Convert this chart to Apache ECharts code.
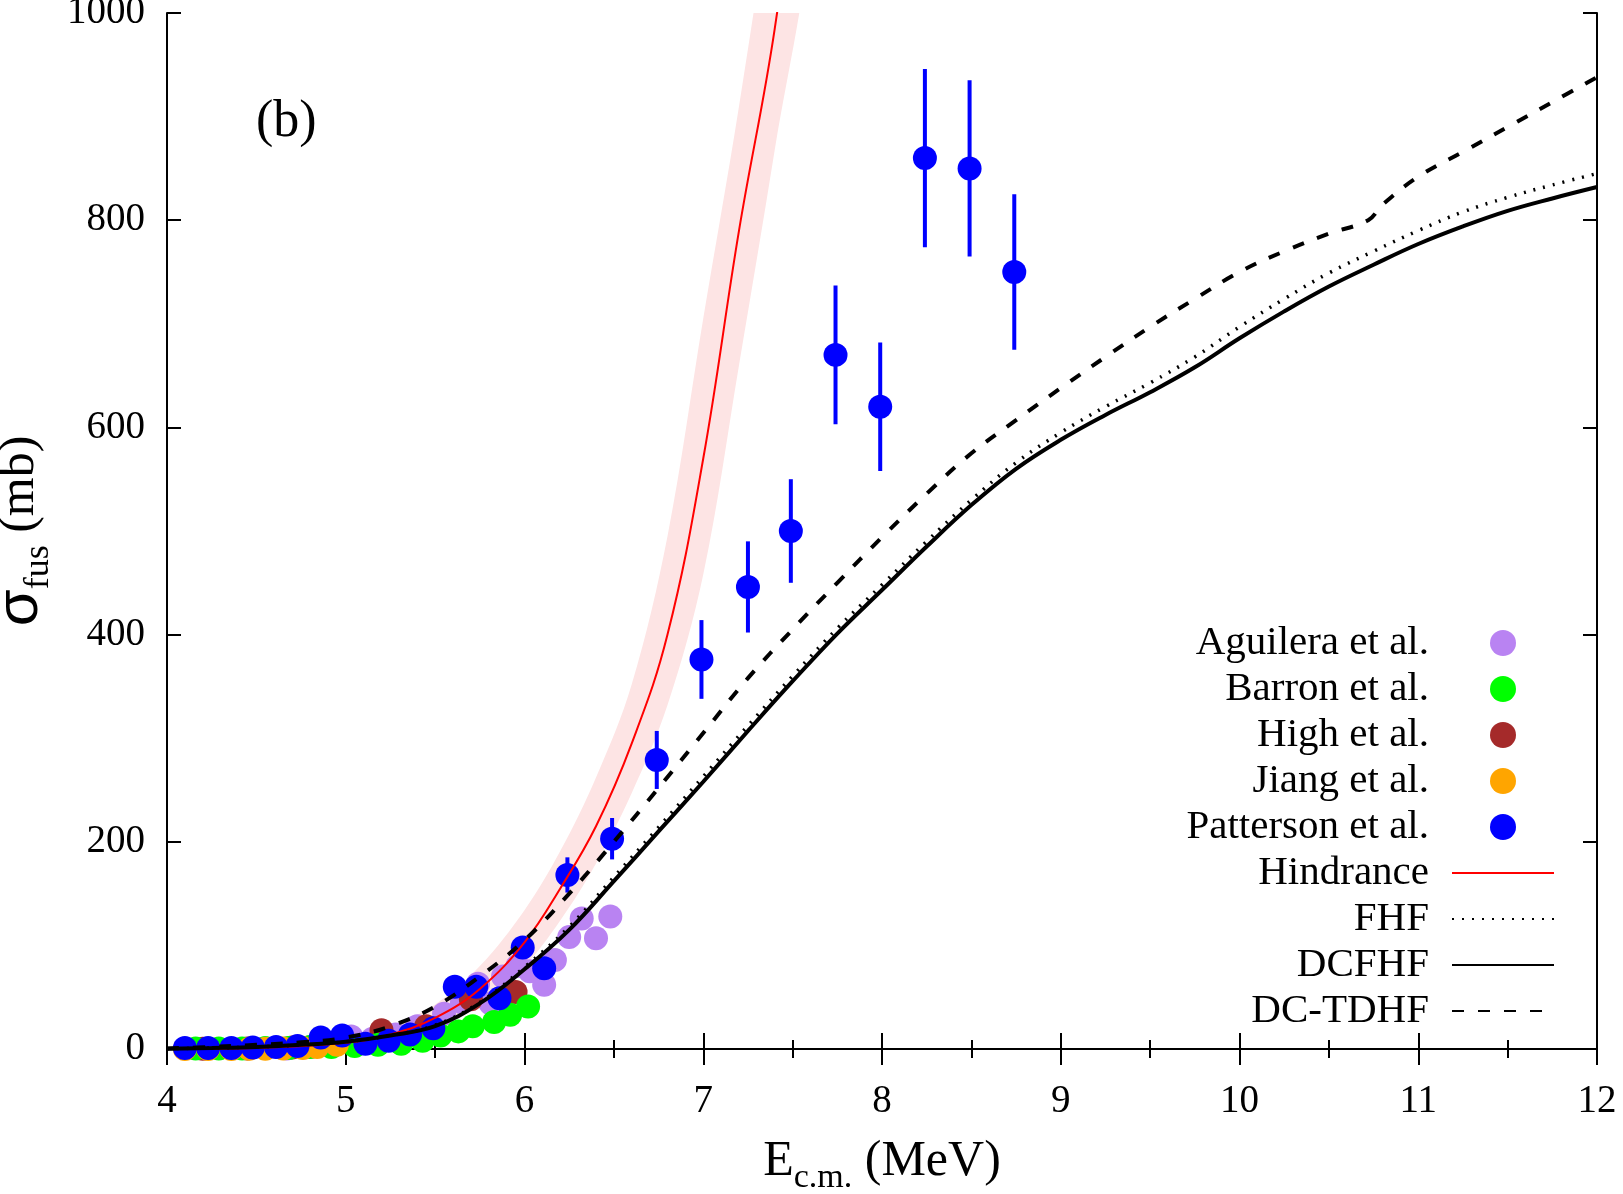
<!DOCTYPE html>
<html>
<head>
<meta charset="utf-8">
<script src="https://cdn.jsdelivr.net/npm/echarts@6/dist/echarts.min.js"></script>
<style>
  html, body { margin: 0; padding: 0; background: #fff; }
  #chart { width: 1623px; height: 1194px; }
</style>
</head>
<body>
<div id="chart"></div>
<script>
// --- data ---
const aguileraE = [4.67, 4.80, 4.93, 5.03, 5.15, 5.28, 5.40, 5.55, 5.65, 5.74, 5.81, 5.88, 5.96, 6.03, 6.11, 6.17, 6.25, 6.32, 6.40, 6.48];
const aguileraS = [0.5, 2, 5, 12, 10, 14, 22, 34, 45, 63, 44, 70, 80, 75, 62, 86, 108, 126, 107, 128];

const barronE = [4.16, 4.29, 4.42, 4.55, 4.68, 4.80, 4.92, 5.05, 5.18, 5.31, 5.43, 5.53, 5.63, 5.71, 5.83, 5.92, 6.02];
const barronS = [0.5, 0.5, 0.5, 1, 1, 2, 2, 3, 4, 5, 8, 13, 17, 22, 26, 33, 41];

const highE = [4.20, 4.45, 4.70, 4.95, 5.20, 5.45, 5.70, 5.95];
const highS = [0.3, 0.5, 1.5, 6, 18, 22, 48, 55];

const jiangE = [4.10, 4.23, 4.36, 4.46, 4.55, 4.65, 4.76, 4.84, 4.95];
const jiangS = [0, 0.1, 0.1, 0.2, 0.3, 0.5, 1, 2, 4];

const pattersonE = [4.10, 4.23, 4.36, 4.48, 4.61, 4.73, 4.86, 4.98, 5.11, 5.24, 5.36, 5.49, 5.61, 5.73, 5.86, 5.99, 6.11, 6.24, 6.49, 6.74, 6.99, 7.25, 7.49, 7.74, 7.99, 8.24, 8.49, 8.74];
const pattersonS = [1, 1, 1, 1.5, 2, 3, 11, 13, 5, 8, 14, 20, 60, 60, 49, 98, 78, 168, 203, 279, 376, 446, 500, 670, 620, 860, 850, 750];
const pattersonErr = [0.1, 0.1, 0.1, 0.2, 0.2, 0.3, 1, 1.3, 0.5, 0.8, 1.4, 2, 6, 6, 5, 10, 8, 17, 20, 28, 38, 44, 50, 67, 62, 86, 85, 75];

const hindE = [4.0, 4.5, 5.0, 5.25, 5.5, 5.75, 6.0, 6.2, 6.4, 6.6, 6.8, 7.0, 7.2, 7.4, 7.6];
const hindS = [0.1, 1, 6, 14, 30, 58, 103, 155, 215, 295, 400, 570, 790, 985, 1250];
const hindUpper = [0.3, 2, 10, 22, 43, 80, 134, 191, 262, 352, 495, 705, 910, 1140, 1400];
const hindLower = [0, 0.4, 4, 10, 22, 44, 80, 124, 179, 247, 332, 458, 660, 868, 1090];

const modelE = [4.0, 4.25, 4.5, 4.75, 5.0, 5.25, 5.5, 5.75, 6.0, 6.25, 6.5, 6.75, 7.0, 7.25, 7.5, 7.75, 8.0, 8.25, 8.5, 8.75, 9.0, 9.25, 9.5, 9.75, 10.0, 10.25, 10.5, 10.75, 11.0, 11.25, 11.5, 11.75, 12.0];
const fhfS = [0.3, 1, 2, 4, 7, 13, 23, 45, 79, 118, 166, 214, 263, 312, 360, 406, 448, 490, 530, 566, 595, 620, 643, 668, 697, 724, 749, 770, 790, 808, 822, 834, 845];
const dcfhfS = [0.3, 1, 2, 4, 7, 13, 22, 44, 77, 115, 162, 210, 258, 307, 355, 401, 443, 485, 525, 560, 588, 612, 634, 658, 686, 712, 736, 757, 777, 794, 809, 821, 832];

const tdhfE = [4.0, 4.25, 4.5, 4.75, 5.0, 5.25, 5.5, 5.75, 6.0, 6.25, 6.5, 6.75, 7.0, 7.25, 7.5, 7.75, 8.0, 8.25, 8.5, 8.75, 9.0, 9.25, 9.5, 9.75, 10.0, 10.25, 10.5, 10.72, 10.8, 11.0, 11.25, 11.5, 11.75, 12.0];
const tdhfS = [0.5, 2, 4, 6.5, 11, 22, 41, 70, 105, 150, 200, 252, 305, 358, 405, 450, 494, 536, 575, 607, 638, 668, 697, 724, 750, 770, 787, 800, 815, 842, 866, 890, 914, 938];

const scatterNames = ['Aguilera et al.', 'Barron et al.', 'High et al.', 'Jiang et al.', 'Patterson et al.'];
const curveNames = ['Hindrance', 'FHF', 'DCFHF', 'DC-TDHF'];

const serif = 'Liberation Serif';
const pair = (xs, ys) => xs.map((x, i) => [x, ys[i]]);

const myChart = echarts.init(document.getElementById('chart'));

function dots(name, xs, ys, color) {
  return {
    name: name,
    type: 'scatter',
    symbol: 'circle',
    symbolSize: 24,
    itemStyle: { color: color, opacity: 1 },
    data: pair(xs, ys)
  };
}

function curve(name, xs, ys, style) {
  return {
    name: name,
    type: 'line',
    symbol: 'none',
    smooth: 0.4,
    itemStyle: { color: style.color, opacity: 0 },
    lineStyle: style,
    data: pair(xs, ys)
  };
}

const axisText = { fontFamily: serif, fontSize: 39, color: '#000' };

const option = {
  animation: false,
  backgroundColor: '#fff',
  grid: { left: 167, right: 26, top: 13, bottom: 145, containLabel: false, outerBoundsMode: 'none' },
  xAxis: [
    {
      type: 'value', min: 4, max: 12, interval: 1,
      name: '{m|E}{s|c.m.}{m| (MeV)}',
      nameLocation: 'middle', nameGap: 80,
      nameTextStyle: {
        rich: {
          m: { fontFamily: serif, fontSize: 50, color: '#000', lineHeight: 66 },
          s: { fontFamily: serif, fontSize: 34, color: '#000', lineHeight: 34, verticalAlign: 'bottom' }
        }
      },
      axisLine: { lineStyle: { color: '#000', width: 2 } },
      axisTick: { inside: true, length: 16, lineStyle: { color: '#000', width: 2 } },
      minorTick: { show: true, splitNumber: 2, length: 9, lineStyle: { color: '#000', width: 2 } },
      axisLabel: Object.assign({ margin: 33 }, axisText),
      splitLine: { show: false }
    },
    {
      type: 'value', min: 4, max: 12, interval: 1, position: 'top',
      axisLine: { lineStyle: { color: '#000', width: 2 } },
      axisTick: { inside: true, length: 16, lineStyle: { color: '#000', width: 2 } },
      minorTick: { show: true, splitNumber: 2, length: 9, lineStyle: { color: '#000', width: 2 } },
      axisLabel: { show: false },
      splitLine: { show: false }
    }
  ],
  yAxis: [
    {
      type: 'value', min: 0, max: 1000, interval: 200,
      name: '{g|σ}{s|fus}{m| (mb)}',
      nameLocation: 'middle', nameGap: 100, nameRotate: 90,
      nameTextStyle: {
        rich: {
          g: { fontFamily: 'Liberation Sans', fontSize: 60, color: '#000', lineHeight: 72 },
          m: { fontFamily: serif, fontSize: 50, color: '#000', lineHeight: 72 },
          s: { fontFamily: serif, fontSize: 36, color: '#000', lineHeight: 36, verticalAlign: 'bottom' }
        }
      },
      axisLine: { lineStyle: { color: '#000', width: 2 } },
      axisTick: { inside: true, length: 14, lineStyle: { color: '#000', width: 2 } },
      axisLabel: Object.assign({ margin: 22, padding: [6, 0, 0, 0], formatter: v => String(v) }, axisText),
      splitLine: { show: false }
    },
    {
      type: 'value', min: 0, max: 1000, interval: 200, position: 'right',
      axisLine: { lineStyle: { color: '#000', width: 2 } },
      axisTick: { inside: true, length: 14, lineStyle: { color: '#000', width: 2 } },
      axisLabel: { show: false },
      splitLine: { show: false }
    }
  ],
  legend: {
    data: scatterNames.concat(curveNames.map(n => ({ name: n, itemStyle: { opacity: 0 } }))),
    orient: 'vertical',
    align: 'right',
    right: 68,
    top: 620,
    padding: 0,
    itemGap: 0,
    itemWidth: 102,
    itemHeight: 26,
    selectedMode: false,
    textStyle: { fontFamily: serif, fontSize: 41, color: '#000', lineHeight: 46, padding: [0, 18, 0, 0] }
  },
  graphic: [
    {
      type: 'text', left: 256, top: 96,
      style: { text: '(b)', font: '52px "Liberation Serif"', fill: '#000' }
    }
  ],
  series: [
    // uncertainty band of the hindrance curve, one polygon between upper and lower edge
    {
      name: 'hindBand',
      type: 'custom',
      silent: true,
      data: [[hindE[0], hindS[0]]],
      renderItem: function (params, api) {
        const upper = hindE.map((e, i) => api.coord([e, hindUpper[i]]));
        const lower = hindE.map((e, i) => api.coord([e, hindLower[i]])).reverse();
        const cs = params.coordSys;
        return {
          type: 'polygon',
          shape: { points: upper.concat(lower), smooth: 0.35 },
          style: { fill: '#fde4e4' },
          clipPath: { type: 'rect', shape: { x: cs.x, y: cs.y, width: cs.width, height: cs.height } }
        };
      }
    },
    dots('Aguilera et al.', aguileraE, aguileraS, '#b983f2'),
    dots('High et al.', highE, highS, '#a52a2a'),
    dots('Barron et al.', barronE, barronS, '#00ff00'),
    dots('Jiang et al.', jiangE, jiangS, '#ffa500'),
    curve('Hindrance', hindE, hindS, { color: '#ff0000', width: 2 }),
    curve('FHF', modelE, fhfS, { color: '#000', width: 3.5, type: [2, 8] }),
    curve('DCFHF', modelE, dcfhfS, { color: '#000', width: 4 }),
    curve('DC-TDHF', tdhfE, tdhfS, { color: '#000', width: 4, type: [12, 14] }),
    {
      name: 'errPatterson',
      type: 'custom',
      silent: true,
      renderItem: function (params, api) {
        const p1 = api.coord([api.value(0), api.value(1)]);
        const p2 = api.coord([api.value(0), api.value(2)]);
        return {
          type: 'line',
          shape: { x1: p1[0], y1: p1[1], x2: p2[0], y2: p2[1] },
          style: { stroke: '#0000ff', lineWidth: 4 }
        };
      },
      data: pattersonE.map((e, i) => [e, pattersonS[i] - pattersonErr[i], pattersonS[i] + pattersonErr[i]])
    },
    dots('Patterson et al.', pattersonE, pattersonS, '#0000ff')
  ]
};

myChart.setOption(option);
</script>
</body>
</html>
